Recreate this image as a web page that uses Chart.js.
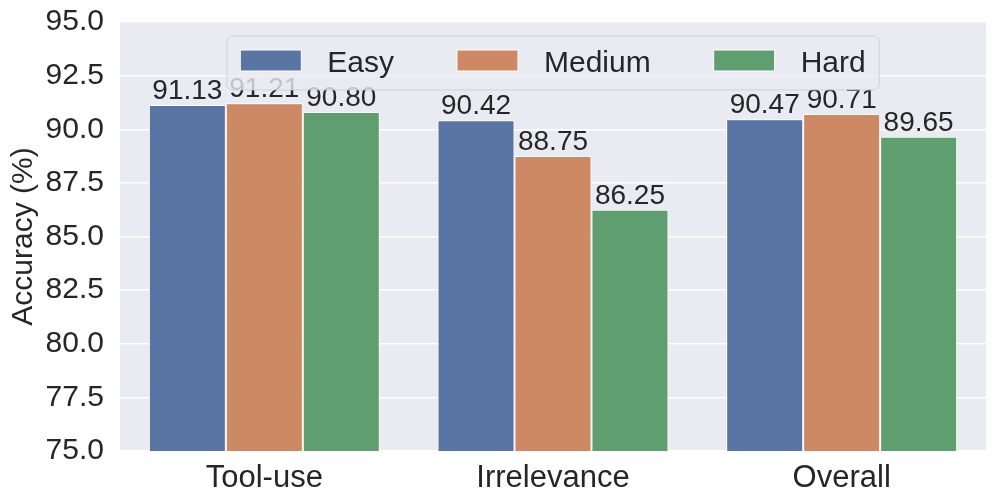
<!DOCTYPE html>
<html>
<head>
<meta charset="utf-8">
<script src="https://cdn.jsdelivr.net/npm/chart.js@4.4.1/dist/chart.umd.min.js"></script>
<style>
  html, body { margin: 0; padding: 0; background: #fff; }
  #wrap { width: 997px; height: 504px; }
</style>
</head>
<body>
<div id="wrap"><canvas id="accChart" width="997" height="504"></canvas></div>
<script>
const categories = ["Tool-use", "Irrelevance", "Overall"];
const seriesNames = ["Easy", "Medium", "Hard"];
const easyValues = [91.13, 90.42, 90.47];
const mediumValues = [91.21, 88.75, 90.71];
const hardValues = [90.80, 86.25, 89.65];
const yTicks = [75.0, 77.5, 80.0, 82.5, 85.0, 87.5, 90.0, 92.5, 95.0];
const barColors = ["#5875a4", "#cc8963", "#5f9e6e"];

const FONT = "'Liberation Sans', Arial, sans-serif";
const TEXT_COLOR = "#262626";

// grey panel behind the bars (seaborn darkgrid look)
const panelBg = {
  id: "panelBg",
  beforeDraw(chart) {
    const { ctx, chartArea: a } = chart;
    ctx.save();
    ctx.fillStyle = "#eaeaf2";
    ctx.fillRect(a.left, a.top, a.right - a.left, a.bottom - a.top);
    ctx.restore();
  }
};

// value on top of each bar
const barValues = {
  id: "barValues",
  afterDatasetsDraw(chart) {
    const ctx = chart.ctx;
    ctx.save();
    ctx.font = "28px " + FONT;
    ctx.fillStyle = TEXT_COLOR;
    ctx.textAlign = "center";
    ctx.textBaseline = "alphabetic";
    chart.data.datasets.forEach((ds, i) => {
      chart.getDatasetMeta(i).data.forEach((bar, j) => {
        ctx.fillText(ds.data[j].toFixed(2), bar.x, bar.y - 6);
      });
    });
    ctx.restore();
  }
};

// framed legend, upper center, drawn over the labels
const boxLegend = {
  id: "boxLegend",
  afterDraw(chart) {
    const { ctx, chartArea: a } = chart;
    const handleW = 61, handleH = 21, textPad = 26, colGap = 63, side = 13.5;
    ctx.save();
    ctx.font = "30px " + FONT;
    const items = chart.data.datasets.map(ds => ({
      label: ds.label, color: ds.backgroundColor, w: ctx.measureText(ds.label).width
    }));
    let inner = 0;
    items.forEach((it, i) => { inner += handleW + textPad + it.w + (i ? colGap : 0); });
    const boxW = inner + side * 2, boxH = 54;
    const boxX = (a.left + a.right) / 2 - boxW / 2;
    const boxY = a.top + 14;
    ctx.beginPath();
    ctx.roundRect(boxX, boxY, boxW, boxH, 6);
    ctx.fillStyle = "rgba(234,234,242,0.8)";
    ctx.fill();
    ctx.strokeStyle = "rgba(204,204,204,0.8)";
    ctx.lineWidth = 1;
    ctx.stroke();
    let x = boxX + side;
    items.forEach(it => {
      ctx.fillStyle = it.color;
      ctx.fillRect(x, boxY + 14, handleW, handleH);
      ctx.strokeStyle = "#ffffff";
      ctx.strokeRect(x, boxY + 14, handleW, handleH);
      x += handleW + textPad;
      ctx.fillStyle = TEXT_COLOR;
      ctx.textAlign = "left";
      ctx.textBaseline = "alphabetic";
      ctx.fillText(it.label, x, boxY + 36);
      x += it.w + colGap;
    });
    ctx.restore();
  }
};

const ctx = document.getElementById("accChart");
new Chart(ctx, {
  type: "bar",
  data: {
    labels: categories,
    datasets: [
      { label: seriesNames[0], data: easyValues, backgroundColor: barColors[0] },
      { label: seriesNames[1], data: mediumValues, backgroundColor: barColors[1] },
      { label: seriesNames[2], data: hardValues, backgroundColor: barColors[2] }
    ].map(ds => Object.assign(ds, {
      borderColor: "#ffffff",
      borderWidth: 1,
      categoryPercentage: 0.8,
      barPercentage: 1.0
    }))
  },
  options: {
    responsive: false,
    animation: false,
    devicePixelRatio: 1,
    layout: { padding: { top: 22, right: 11, left: 0, bottom: 0 } },
    plugins: {
      legend: { display: false },
      tooltip: { enabled: false }
    },
    scales: {
      x: {
        grid: { display: false, drawTicks: false },
        border: { display: false },
        ticks: { font: { family: FONT, size: 31 }, color: TEXT_COLOR, padding: 9 },
        afterFit(scale) {
          scale.height = 53;
          scale.paddingLeft = 0;
          scale.paddingRight = 0;
        }
      },
      y: {
        min: 75,
        max: 95,
        grid: { color: "#ffffff", lineWidth: 1.5, drawTicks: false },
        border: { display: false },
        afterBuildTicks(scale) { scale.ticks = yTicks.map(v => ({ value: v })); },
        ticks: {
          font: { family: FONT, size: 30 },
          color: TEXT_COLOR,
          padding: 16,
          callback: v => Number(v).toFixed(1)
        },
        title: {
          display: true,
          text: "Accuracy (%)",
          font: { family: FONT, size: 30 },
          color: TEXT_COLOR,
          padding: { top: 6, bottom: 0 }
        },
        afterFit(scale) {
          scale.width = 120;
          scale.paddingTop = 0;
          scale.paddingBottom = 0;
        }
      }
    }
  },
  plugins: [panelBg, barValues, boxLegend]
});
</script>
</body>
</html>
